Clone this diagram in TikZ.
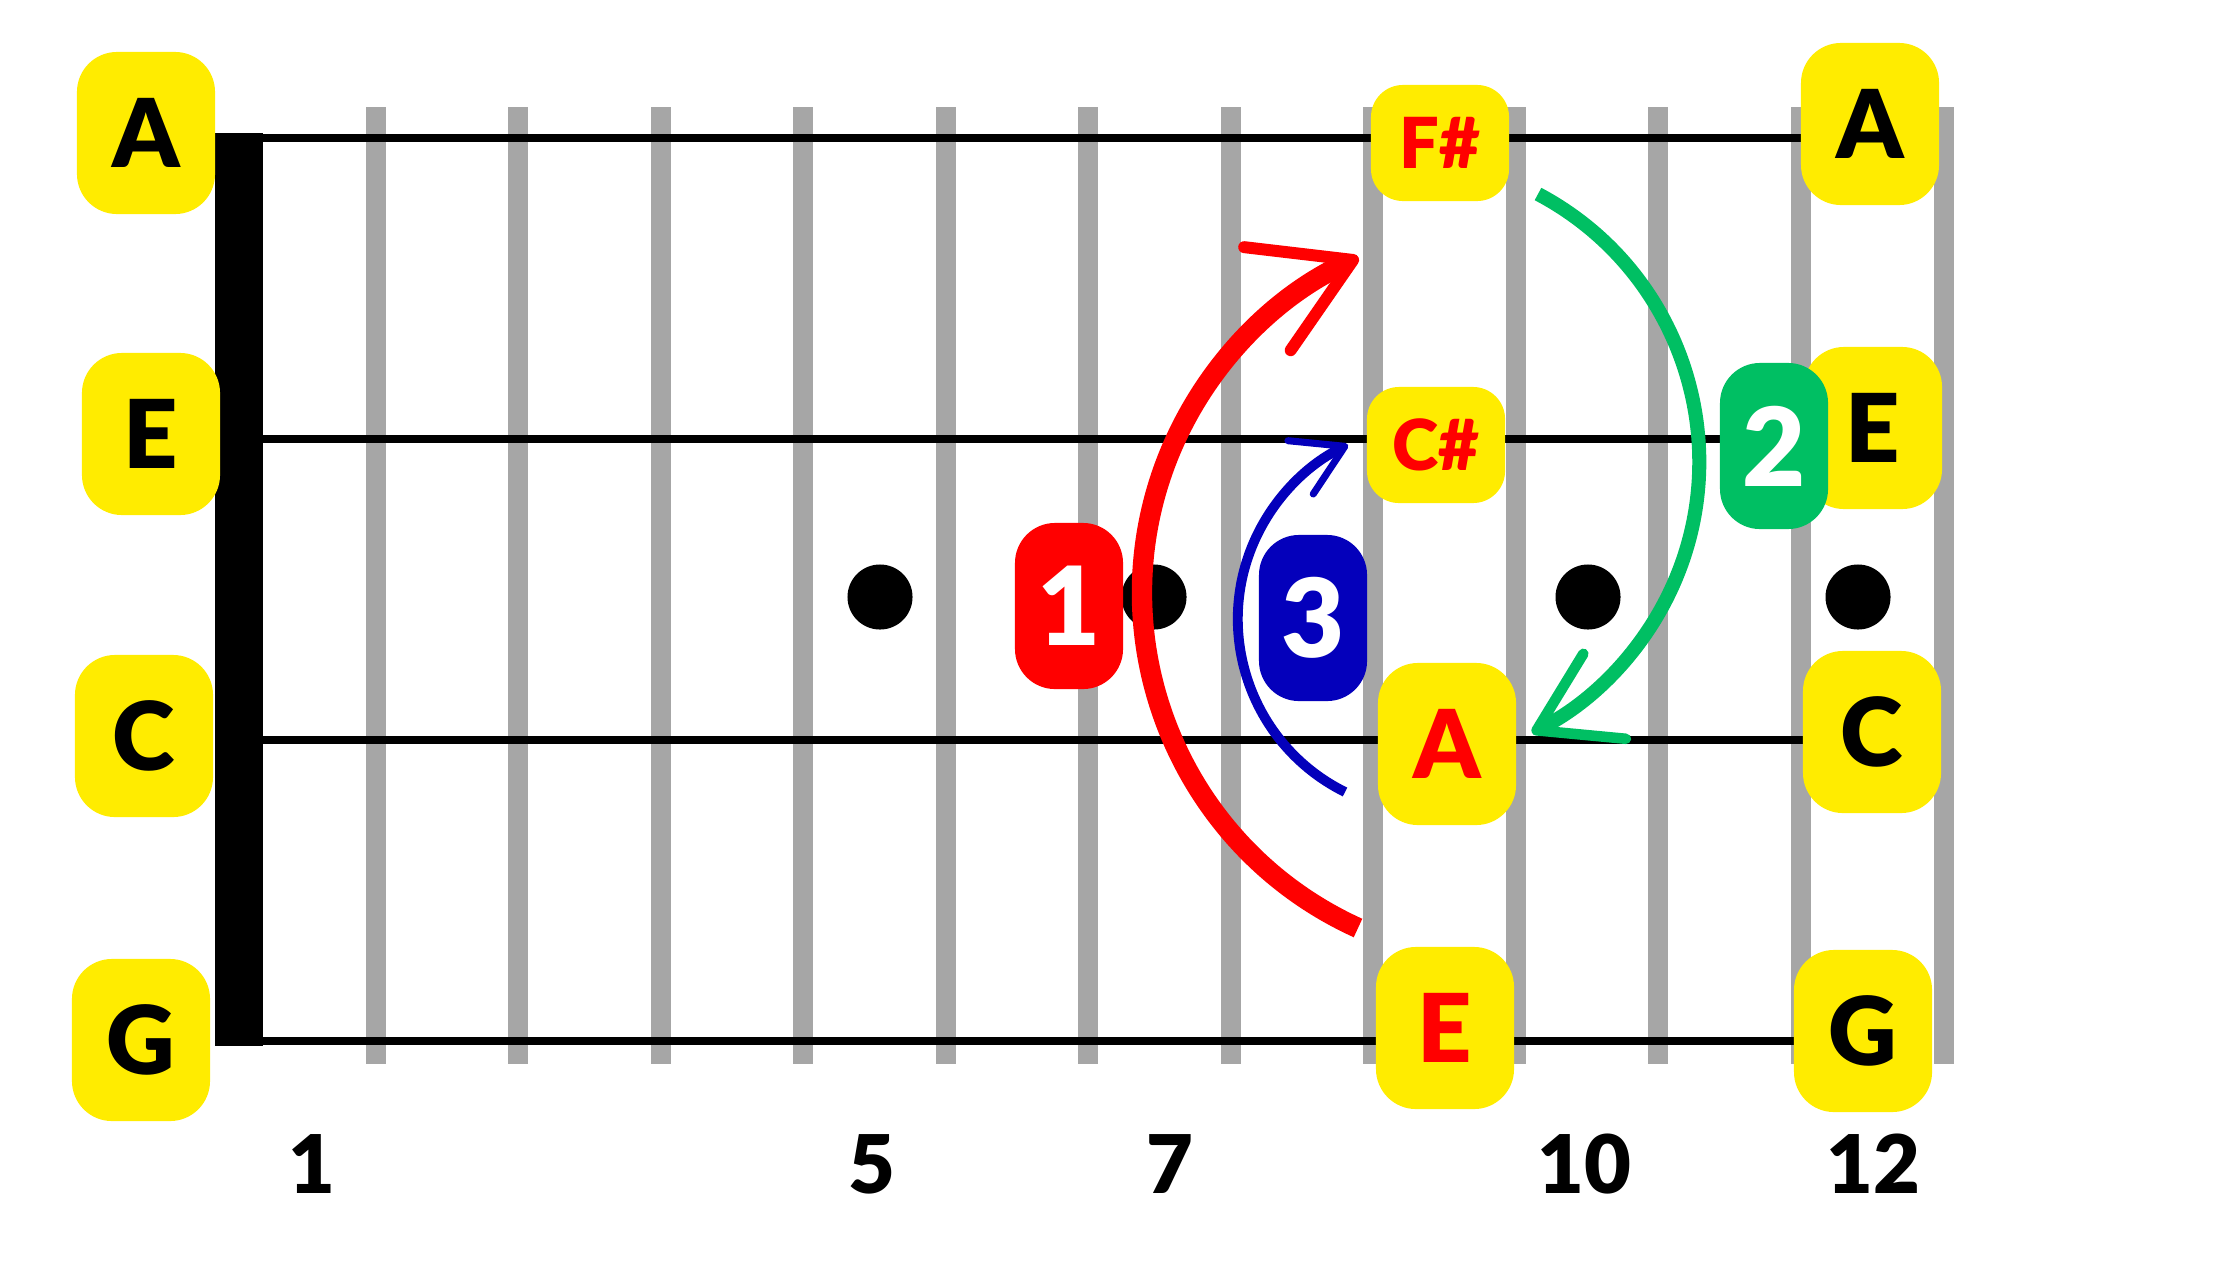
\documentclass[tikz,border=0pt]{standalone}
\usepackage{fontspec}
\setmainfont{Lato}[BoldFont={Lato Black}]
\usepackage{xcolor}
\usetikzlibrary{arrows.meta}
\definecolor{noteyellow}{RGB}{255,236,0}
\definecolor{fretgray}{RGB}{166,166,166}
\definecolor{fingerred}{RGB}{255,0,0}
\definecolor{fingerblue}{RGB}{4,0,187}
\definecolor{fingergreen}{RGB}{0,191,99}

\begin{document}
\begin{tikzpicture}[x=0.01cm, y=-0.01cm,
    fretline/.style={draw=fretgray, line width=5.7pt},
    strline/.style={draw=black, line width=2.5pt},
    notebox/.style={fill=noteyellow, rounded corners=0.4cm, minimum width=1.38cm, minimum height=1.62cm, inner sep=0pt, font=\bfseries\fontsize{27}{30}\selectfont},
    sharpbox/.style={notebox, minimum height=1.16cm, rounded corners=0.32cm, text=fingerred, font=\bfseries\fontsize{20}{24}\selectfont},
    fingerbox/.style={rounded corners=0.4cm, minimum width=1.08cm, minimum height=1.66cm, inner sep=0pt, text=white, font=\bfseries\fontsize{31}{34}\selectfont},
    inlay/.style={circle, fill=black, minimum size=0.65cm, inner sep=0pt},
    fretnum/.style={font=\bfseries\fontsize{23}{28}\selectfont}]
    \useasboundingbox (0,0) rectangle (2240,1260);

    % Tasti
    \draw[fretline] (376,107) -- (376,1064);
    \draw[fretline] (518,107) -- (518,1064);
    \draw[fretline] (661,107) -- (661,1064);
    \draw[fretline] (803,107) -- (803,1064);
    \draw[fretline] (946,107) -- (946,1064);
    \draw[fretline] (1088,107) -- (1088,1064);
    \draw[fretline] (1231,107) -- (1231,1064);
    \draw[fretline] (1373,107) -- (1373,1064);
    \draw[fretline] (1516,107) -- (1516,1064);
    \draw[fretline] (1658,107) -- (1658,1064);
    \draw[fretline] (1801,107) -- (1801,1064);
    \draw[fretline] (1944,107) -- (1944,1064);

    % Corde e capotasto
    \draw[strline] (263,138) -- (1860,138);
    \draw[strline] (263,439) -- (1860,439);
    \draw[strline] (263,740) -- (1860,740);
    \draw[strline] (263,1041) -- (1860,1041);
    \fill (215,133) rectangle (263,1046);

    % Segnatasti
    \node[inlay] (dot5) at (880,597) {};
    \node[inlay] (dot7) at (1154,597) {};
    \node[inlay] (dot10) at (1588,597) {};
    \node[inlay] (dot12) at (1858,597) {};

    % Corde a vuoto
    \node[notebox] (a0) at (146,133) {A};
    \node[notebox] (e0) at (151,434) {E};
    \node[notebox] (c0) at (144,736) {C};
    \node[notebox] (g0) at (141,1040) {G};

    % Dodicesimo tasto
    \node[notebox] (a12) at (1870,124) {A};
    \node[notebox] (e12) at (1873,428) {E};
    \node[notebox] (c12) at (1872,732) {C};
    \node[notebox] (g12) at (1863,1031) {G};

    % Nono tasto
    \node[sharpbox] (fs9) at (1440,143) {F\#};
    \node[sharpbox] (cs9) at (1436,445) {C\#};
    \node[notebox, text=fingerred] (a9) at (1447,744) {A};
    \node[notebox, text=fingerred] (e9) at (1445,1028) {E};

    % Dita
    \node[fingerbox, fill=fingerred] (f1) at (1069,606) {1};
    \node[fingerbox, fill=fingergreen] (f2) at (1774,446) {2};
    \node[fingerbox, fill=fingerblue] (f3) at (1313,618) {3};

    % Frecce
    \coordinate (redstart) at (1358,928);
    \coordinate (bluestart) at (1345,792);
    \coordinate (greenstart) at (1538,194);
    \draw[fingerred, line width=5.8pt, -{Straight Barb[length=0.94cm, width=1.13cm, line width=3.4pt, round]}]
        (redstart) arc[start angle=114.4, end angle=245.7, radius=368];
    \draw[fingerblue, line width=2.8pt, -{Straight Barb[length=0.49cm, width=0.59cm, line width=2pt, round]}]
        (bluestart) arc[start angle=116.4, end angle=244.6, radius=193];
    \draw[fingergreen, line width=4pt, -{Straight Barb[length=0.76cm, width=0.95cm, line width=3pt, round]}]
        (greenstart) arc[start angle=-62.1, end angle=63.4, radius=303];

    % Numeri dei tasti
    \node[fretnum] (n1) at (312,1164) {1};
    \node[fretnum] (n5) at (872,1164) {5};
    \node[fretnum] (n7) at (1170,1164) {7};
    \node[fretnum] (n10) at (1584,1164) {10};
    \node[fretnum] (n12) at (1873,1164) {12};
\end{tikzpicture}
\end{document}
